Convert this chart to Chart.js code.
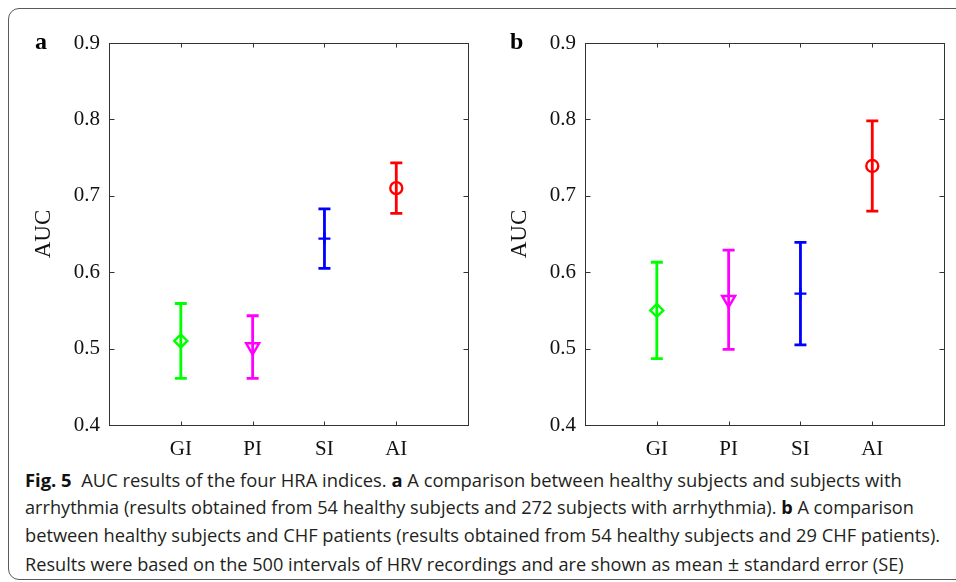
<!DOCTYPE html>
<html>
<head>
<meta charset="utf-8">
<script src="https://cdn.jsdelivr.net/npm/chart.js@4/dist/chart.umd.min.js"></script>
<style>
  html, body { margin:0; padding:0; background:#fff; }
  body { width:956px; height:582px; position:relative; overflow:hidden; }
  #frame { position:absolute; left:8px; top:8px; width:1000px; height:572px; border:1.5px solid #5a5a5a; border-radius:11px; box-sizing:border-box; }
  .cv { position:absolute; top:0; width:478px; height:465px; }
  .plabel { position:absolute; font-family:"Liberation Serif", serif; font-weight:bold; font-size:24px; line-height:1; }
  .cap { position:absolute; left:25px; font-family:"Open Sans", "Noto Sans", sans-serif; font-size:18px; line-height:1; white-space:nowrap; color:#231f20; transform-origin:0 0; }
  .cap b { font-weight:700; color:#111; }
</style>
</head>
<body>
<div id="frame"></div>
<canvas id="cA" class="cv" style="left:0px" width="478" height="465"></canvas>
<canvas id="cB" class="cv" style="left:476px" width="478" height="465"></canvas>
<div class="plabel" style="left:35px; top:29px;">a</div>
<div class="plabel" style="left:510px; top:29px;">b</div>
<div class="cap" id="l1" data-w="877" style="top:471px;"><b>Fig. 5</b>&nbsp; AUC results of the four HRA indices. <b>a</b> A comparison between healthy subjects and subjects with</div>
<div class="cap" id="l2" data-w="889" style="top:498px;">arrhythmia (results obtained from 54 healthy subjects and 272 subjects with arrhythmia). <b>b</b> A comparison</div>
<div class="cap" id="l3" data-w="915" style="top:526px;">between healthy subjects and CHF patients (results obtained from 54 healthy subjects and 29 CHF patients).</div>
<div class="cap" id="l4" data-w="879" style="top:554px;">Results were based on the 500 intervals of HRV recordings and are shown as mean <span style="font-size:20px">±</span> standard error (SE)</div>
<script>
// ---- data ----
const categories = ['GI', 'PI', 'SI', 'AI'];
const yTicks = [0.4, 0.5, 0.6, 0.7, 0.8, 0.9];
const meanA = [0.510, 0.502, 0.644, 0.710];
const seA   = [0.049, 0.041, 0.039, 0.033];
const meanB = [0.550, 0.564, 0.572, 0.739];
const seB   = [0.063, 0.065, 0.067, 0.059];
const colors = ['#00ff00', '#ff00ff', '#0000ff', '#ff0000'];
const markers = ['rectRot', 'triangle', 'cross', 'circle'];
const markerRot = [0, 180, 0, 0];
const markerSize = [6.5, 7.5, 6, 6];

// fit caption lines
document.querySelectorAll('.cap').forEach(el => {
  const w = el.scrollWidth;
  const target = +el.dataset.w;
  el.style.transform = 'scaleX(' + (target / w) + ')';
});

const errorBars = {
  id: 'errorBars',
  afterDatasetsDraw(chart) {
    const { ctx, scales: { x, y } } = chart;
    const ds = chart.data.datasets[0];
    ctx.save();
    ds.meanVals.forEach((m, i) => {
      const px = x.getPixelForValue(i + 1);
      const yt = y.getPixelForValue(m + ds.seVals[i]);
      const yb = y.getPixelForValue(m - ds.seVals[i]);
      ctx.strokeStyle = colors[i];
      ctx.lineWidth = 2.8;
      ctx.beginPath();
      ctx.moveTo(px, yt); ctx.lineTo(px, yb);
      ctx.moveTo(px - 6, yt); ctx.lineTo(px + 6, yt);
      ctx.moveTo(px - 6, yb); ctx.lineTo(px + 6, yb);
      ctx.stroke();
    });
    ctx.restore();
  }
};

const boxTicks = {
  id: 'boxTicks',
  afterDraw(chart) {
    const { ctx, chartArea: a, scales: { x, y } } = chart;
    ctx.save();
    ctx.strokeStyle = '#333';
    ctx.lineWidth = 1;
    const L = Math.round(a.left) + 0.5, R = Math.round(a.right) + 0.5;
    const T = Math.round(a.top) + 0.5, B = Math.round(a.bottom) + 0.5;
    ctx.strokeRect(L, T, R - L, B - T);
    ctx.beginPath();
    yTicks.forEach(v => {
      const py = Math.round(y.getPixelForValue(v)) + 0.5;
      ctx.moveTo(L, py); ctx.lineTo(L + 5, py);
      ctx.moveTo(R, py); ctx.lineTo(R - 5, py);
    });
    categories.forEach((c, i) => {
      const px = Math.round(x.getPixelForValue(i + 1)) + 0.5;
      ctx.moveTo(px, B); ctx.lineTo(px, B - 4);
      ctx.moveTo(px, T); ctx.lineTo(px, T + 4);
    });
    ctx.stroke();
    ctx.restore();
  }
};

function makeChart(id, means, ses) {
  return new Chart(document.getElementById(id), {
    type: 'scatter',
    data: {
      datasets: [{
        data: means.map((m, i) => ({ x: i + 1, y: m })),
        meanVals: means,
        seVals: ses,
        pointStyle: markers,
        rotation: markerRot,
        radius: markerSize,
        pointRadius: markerSize,
        pointHoverRadius: markerSize,
        borderColor: colors,
        backgroundColor: 'rgba(0,0,0,0)',
        borderWidth: 2.4,
        pointBorderWidth: 2.4
      }]
    },
    options: {
      responsive: false,
      animation: false,
      events: [],
      layout: { padding: { top: 43, right: 8, left: 0, bottom: 0 } },
      plugins: { legend: { display: false }, tooltip: { enabled: false } },
      scales: {
        x: {
          type: 'linear', min: 0, max: 5,
          afterBuildTicks: s => { s.ticks = categories.map((c, i) => ({ value: i + 1 })); },
          afterFit: s => { s.height = 40; },
          grid: { display: false, drawTicks: false },
          border: { display: false },
          ticks: {
            padding: 12,
            color: '#111',
            font: { family: 'Liberation Serif', size: 21 },
            callback: (v) => categories[v - 1]
          }
        },
        y: {
          type: 'linear', min: 0.4, max: 0.9,
          afterBuildTicks: s => { s.ticks = yTicks.map(v => ({ value: v })); },
          afterFit: s => { s.width = 109; },
          grid: { display: false, drawTicks: false },
          border: { display: false },
          ticks: {
            padding: 9,
            color: '#111',
            font: { family: 'Liberation Serif', size: 21 },
            callback: v => v.toFixed(1)
          },
          title: {
            display: true, text: 'AUC', color: '#111',
            font: { family: 'Liberation Serif', size: 23, lineHeight: 1 },
            padding: { top: 32, bottom: 0 }
          }
        }
      }
    },
    plugins: [errorBars, boxTicks]
  });
}

makeChart('cA', meanA, seA);
makeChart('cB', meanB, seB);
</script>
</body>
</html>
